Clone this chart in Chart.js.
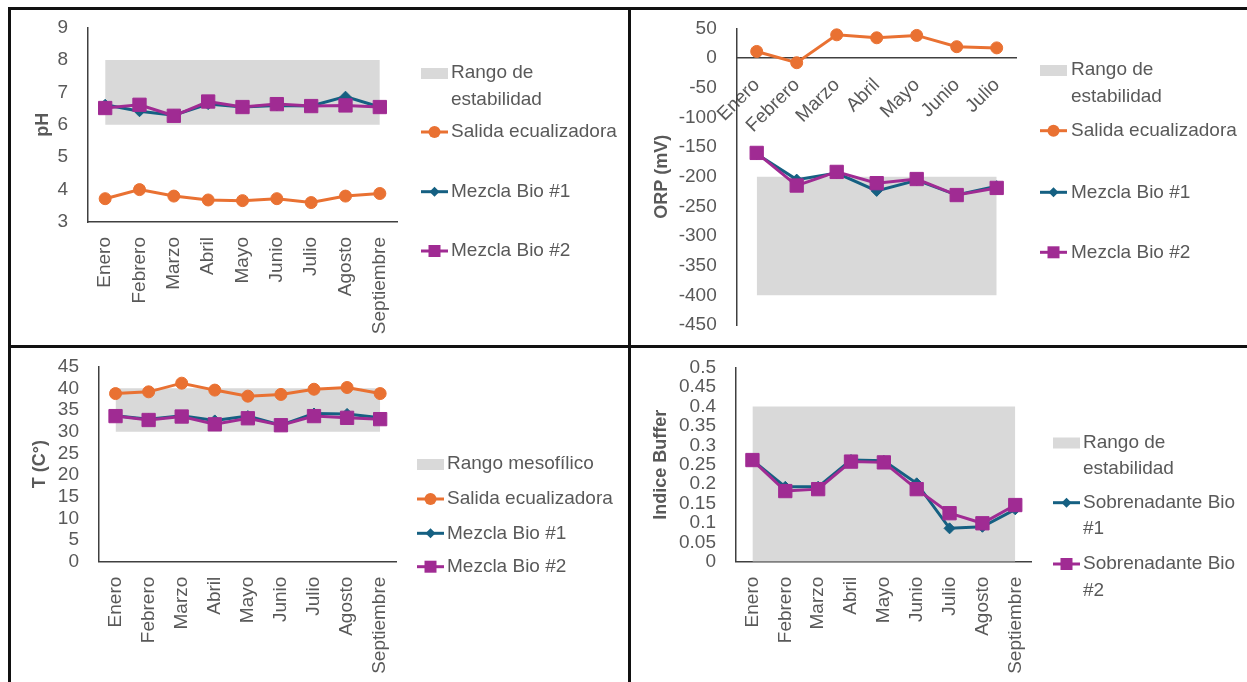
<!DOCTYPE html>
<html>
<head>
<meta charset="utf-8">
<script src="https://cdn.jsdelivr.net/npm/chart.js@4.4.1/dist/chart.umd.min.js"></script>
<style>
  body { margin: 0; background: #fff; width: 1247px; height: 682px; position: relative; overflow: hidden; }
  canvas { position: absolute; }
  .ln { position: absolute; background: #111; }
</style>
</head>
<body>
<div class="ln" style="left:8px;top:7px;width:1239px;height:3px"></div>
<div class="ln" style="left:8px;top:7px;width:3px;height:675px"></div>
<div class="ln" style="left:628px;top:7px;width:3px;height:675px"></div>
<div class="ln" style="left:8px;top:345px;width:1239px;height:3px"></div>

<canvas id="cPh" width="617" height="335" style="left:11px;top:10px"></canvas>
<canvas id="cOrp" width="616" height="335" style="left:631px;top:10px"></canvas>
<canvas id="cTemp" width="617" height="334" style="left:11px;top:348px"></canvas>
<canvas id="cBuf" width="616" height="334" style="left:631px;top:348px"></canvas>

<script>
// months
var months9 = ['Enero', 'Febrero', 'Marzo', 'Abril', 'Mayo', 'Junio', 'Julio', 'Agosto', 'Septiembre'];
var months7 = ['Enero', 'Febrero', 'Marzo', 'Abril', 'Mayo', 'Junio', 'Julio'];

// pH
var phSalida = [3.72, 4.0, 3.8, 3.68, 3.66, 3.72, 3.6, 3.8, 3.88];
var phBio1 = [6.62, 6.42, 6.3, 6.64, 6.55, 6.6, 6.58, 6.87, 6.55];
var phBio2 = [6.52, 6.62, 6.28, 6.72, 6.55, 6.64, 6.58, 6.6, 6.55];
var phBandLow = [6, 6, 6, 6, 6, 6, 6, 6, 6];
var phBandHigh = [8, 8, 8, 8, 8, 8, 8, 8, 8];

// ORP (mV)
var orpSalida = [11, -8, 39, 34, 38, 19, 17];
var orpBio1 = [-162, -205, -194, -224, -206, -231, -216];
var orpBio2 = [-160, -215, -192, -211, -204, -231, -219];
var orpBandLow = [-400, -400, -400, -400, -400, -400, -400];
var orpBandHigh = [-200, -200, -200, -200, -200, -200, -200];

// temperatura
var tSalida = [38.8, 39.2, 41.2, 39.6, 38.2, 38.6, 39.8, 40.2, 38.8];
var tBio1 = [33.7, 32.9, 33.7, 32.6, 33.6, 31.5, 34.2, 34.1, 33.2];
var tBio2 = [33.6, 32.7, 33.5, 31.7, 33.1, 31.5, 33.6, 33.2, 32.9];
var tBandLow = [30, 30, 30, 30, 30, 30, 30, 30, 30];
var tBandHigh = [40, 40, 40, 40, 40, 40, 40, 40, 40];

// indice buffer
var bufBio1 = [0.262, 0.193, 0.193, 0.262, 0.26, 0.202, 0.086, 0.09, 0.135];
var bufBio2 = [0.262, 0.182, 0.187, 0.258, 0.256, 0.187, 0.125, 0.099, 0.146];
var bufBandLow = [0, 0, 0, 0, 0, 0, 0, 0, 0];
var bufBandHigh = [0.4, 0.4, 0.4, 0.4, 0.4, 0.4, 0.4, 0.4, 0.4];

var FONT = "'Liberation Sans', Arial, sans-serif";
var TEXT = '#595959';
var AXIS = '#404040';
var ORANGE = '#E97132', TEAL = '#156082', PURPLE = '#A02B93', GRAY = '#D9D9D9';

function bandSets(label, low, high) {
  return [
    { label: '_low', data: low, borderColor: 'rgba(0,0,0,0)', pointRadius: 0, fill: false, order: 10 },
    { label: label, data: high, borderColor: 'rgba(0,0,0,0)', backgroundColor: GRAY, pointRadius: 0, fill: '-1', order: 9 }
  ];
}

function serie(label, data, color, style, radius, order) {
  return {
    label: label, data: data,
    borderColor: color, backgroundColor: color,
    pointBackgroundColor: color, pointBorderColor: color,
    pointStyle: style, pointRadius: radius, pointBorderWidth: 1,
    borderWidth: 3, tension: 0, fill: false, order: order, clip: false
  };
}

function wrapText(ctx, text, maxW) {
  var words = text.split(' '), lines = [], cur = '';
  words.forEach(function (w) {
    var t = cur ? cur + ' ' + w : w;
    if (cur && ctx.measureText(t).width > maxW) { lines.push(cur); cur = w; }
    else cur = t;
  });
  lines.push(cur);
  return lines;
}

// leyenda a la derecha, estilo Excel
var sideLegend = {
  id: 'sideLegend',
  afterDraw: function (chart, args, opts) {
    var ctx = chart.ctx;
    ctx.save();
    ctx.font = '19px ' + FONT;
    ctx.textBaseline = 'middle';
    opts.items.forEach(function (it) {
      var ds = chart.data.datasets[it.ds];
      var x0 = opts.symX, y = it.y;
      if (ds.fill === '-1') {
        ctx.fillStyle = ds.backgroundColor;
        ctx.fillRect(x0, y - 5, 27, 11);
      } else {
        ctx.strokeStyle = ds.borderColor;
        ctx.lineWidth = 3;
        ctx.beginPath(); ctx.moveTo(x0, y); ctx.lineTo(x0 + 27, y); ctx.stroke();
        var cx = x0 + 13.5;
        ctx.fillStyle = ds.borderColor;
        ctx.beginPath();
        if (ds.pointStyle === 'circle') ctx.arc(cx, y, 6, 0, Math.PI * 2);
        else if (ds.pointStyle === 'rectRot') { ctx.moveTo(cx - 5, y); ctx.lineTo(cx, y - 5); ctx.lineTo(cx + 5, y); ctx.lineTo(cx, y + 5); ctx.closePath(); }
        else ctx.rect(cx - 6, y - 6, 12, 12);
        ctx.fill();
      }
      ctx.fillStyle = TEXT;
      wrapText(ctx, ds.label, opts.maxW).forEach(function (t, k) {
        ctx.fillText(t, opts.textX, y + k * 26.5);
      });
    });
    ctx.restore();
  }
};

function makeChart(id, labels, datasets, sc, pad, legend) {
  var tickFont = { family: FONT, size: 19 };
  var x = {
    offset: true,
    grid: { display: false, drawTicks: false },
    border: { display: true, color: AXIS, width: 1.5 },
    ticks: { font: tickFont, color: TEXT, minRotation: sc.xRot, maxRotation: sc.xRot, autoSkip: false, padding: sc.xPad }
  };
  if (sc.xPos) x.position = sc.xPos;
  else x.afterFit = function (s) { s.height = sc.xHeight; };
  new Chart(document.getElementById(id), {
    type: 'line',
    data: { labels: labels, datasets: datasets },
    options: {
      responsive: false, animation: false, events: [],
      layout: { padding: pad },
      plugins: { legend: { display: false }, tooltip: { enabled: false }, sideLegend: legend },
      scales: {
        x: x,
        y: {
          min: sc.min, max: sc.max,
          // hueco entre etiquetas y eje con tickLength (no pinta nada)
          grid: { display: false, drawTicks: true, tickLength: 17, color: 'rgba(0,0,0,0)' },
          border: { display: true, color: AXIS, width: 1.5 },
          ticks: {
            stepSize: sc.step, autoSkip: false, font: tickFont, color: TEXT, padding: 3,
            callback: function (v) { return String(Number(v.toFixed(2))); }
          },
          title: { display: true, text: sc.title, color: TEXT, font: { family: FONT, size: 18, weight: 'bold' }, padding: { top: 4, bottom: 4 } },
          afterFit: function (s) { s.width = sc.yWidth; }
        }
      }
    },
    plugins: [sideLegend]
  });
}

makeChart('cPh', months9,
  bandSets('Rango de estabilidad', phBandLow, phBandHigh).concat([
    serie('Salida ecualizadora', phSalida, ORANGE, 'circle', 6, 3),
    serie('Mezcla Bio #1', phBio1, TEAL, 'rectRot', 5.5, 2),
    serie('Mezcla Bio #2', phBio2, PURPLE, 'rect', 9.4, 1)
  ]),
  { min: 3, max: 9, step: 1, title: 'pH', yWidth: 60, xRot: 90, xPad: 15, xHeight: 123 },
  { left: 17, top: 17.7, right: 231, bottom: 0 },
  { symX: 410, textX: 440, maxW: 172, items: [{ ds: 1, y: 63 }, { ds: 2, y: 122 }, { ds: 3, y: 181.7 }, { ds: 4, y: 241 }] });

makeChart('cOrp', months7,
  bandSets('Rango de estabilidad', orpBandLow, orpBandHigh).concat([
    serie('Salida ecualizadora', orpSalida, ORANGE, 'circle', 6, 3),
    serie('Mezcla Bio #1', orpBio1, TEAL, 'rectRot', 5.5, 2),
    serie('Mezcla Bio #2', orpBio2, PURPLE, 'rect', 9.4, 1)
  ]),
  { min: -450, max: 50, step: 50, title: 'ORP (mV)', yWidth: 89.7, xRot: 45, xPad: 16, xPos: { y: 0 } },
  { left: 16, top: 18.3, right: 230.3, bottom: 20 },
  { symX: 409, textX: 440, maxW: 172, items: [{ ds: 1, y: 60 }, { ds: 2, y: 120.7 }, { ds: 3, y: 182.3 }, { ds: 4, y: 242.3 }] });

makeChart('cTemp', months9,
  bandSets('Rango mesofílico', tBandLow, tBandHigh).concat([
    serie('Salida ecualizadora', tSalida, ORANGE, 'circle', 6, 3),
    serie('Mezcla Bio #1', tBio1, TEAL, 'rectRot', 5.5, 2),
    serie('Mezcla Bio #2', tBio2, PURPLE, 'rect', 9.4, 1)
  ]),
  { min: 0, max: 45, step: 5, title: 'T (C°)', yWidth: 73.8, xRot: 90, xPad: 15, xHeight: 120.3 },
  { left: 14.2, top: 18.7, right: 231.3, bottom: 0 },
  { symX: 406, textX: 436, maxW: 250, items: [{ ds: 1, y: 116 }, { ds: 2, y: 151 }, { ds: 3, y: 185.3 }, { ds: 4, y: 218.7 }] });

makeChart('cBuf', months9,
  bandSets('Rango de estabilidad', bufBandLow, bufBandHigh).concat([
    serie('Sobrenadante Bio #1', bufBio1, TEAL, 'rectRot', 5.5, 2),
    serie('Sobrenadante Bio #2', bufBio2, PURPLE, 'rect', 9.4, 1)
  ]),
  { min: 0, max: 0.5, step: 0.05, title: 'Indice Buffer', yWidth: 90.1, xRot: 90, xPad: 15, xHeight: 120.3 },
  { left: 14.9, top: 19.7, right: 215.3, bottom: 0 },
  { symX: 422, textX: 452, maxW: 160, items: [{ ds: 1, y: 94.5 }, { ds: 2, y: 154.7 }, { ds: 3, y: 216 }] });
</script>
</body>
</html>
